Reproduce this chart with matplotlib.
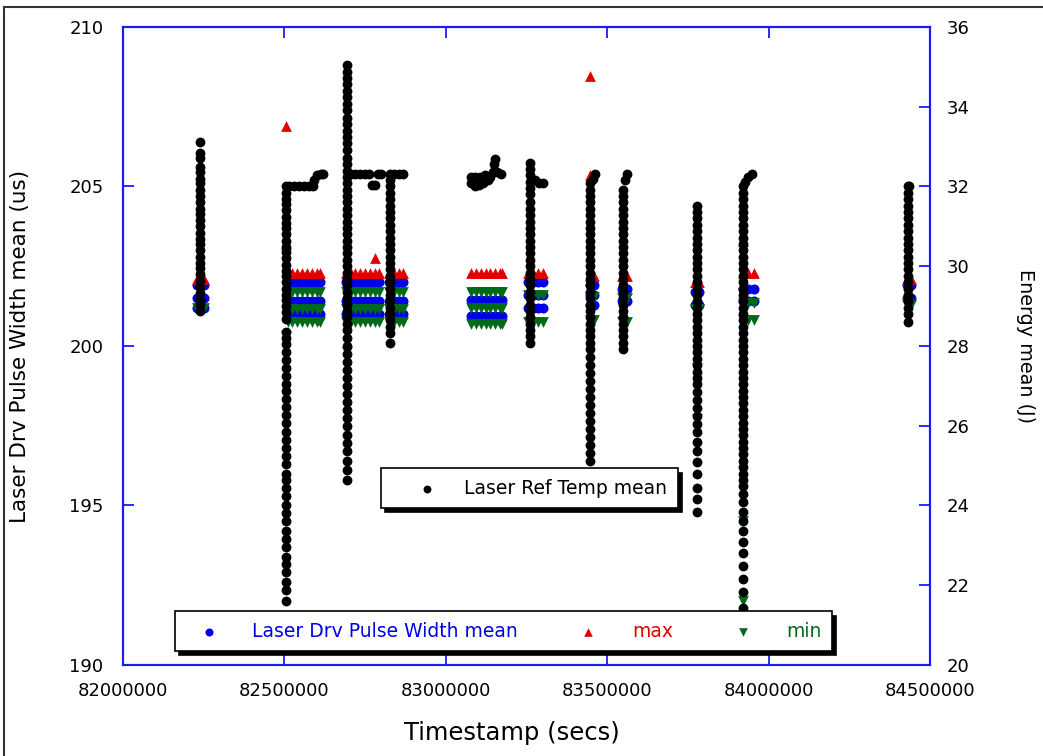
import matplotlib
matplotlib.use("Agg")
import matplotlib.pyplot as plt
from matplotlib.patches import Rectangle

# ---- data -------------------------------------------------------------
# black "Laser Ref Temp mean" columns (one timestamp per column)
temp_col_t = [82240000, 82505000, 82695000, 82828000, 83261000, 83447000,
              83548000, 83778000, 83921000, 84432000]
temp_col_v = [
    [206.4, 206.05, 205.9, 205.6, 205.45, 205.25, 205.1, 204.9, 204.7, 204.5, 204.3, 204.15,
     203.95, 203.75, 203.55, 203.35, 203.2, 203.0, 202.8, 202.6, 202.45, 202.25, 202.05,
     201.85, 201.65, 201.45, 201.3, 201.1],
    [205.0, 204.8, 204.6, 204.45, 204.25, 204.05, 203.85, 203.7, 203.5, 203.3, 203.1, 202.95,
     202.75, 202.55, 202.35, 202.2, 202.0, 201.8, 201.6, 201.45, 201.25, 201.05, 200.85,
     200.45, 200.25, 200.05, 199.8, 199.55, 199.3, 199.05, 198.8, 198.6, 198.35, 198.1,
     197.85, 197.6, 197.3, 197.05, 196.8, 196.55, 196.3, 196.0, 195.8, 195.55, 195.3, 195.0,
     194.75, 194.5, 194.2, 193.95, 193.7, 193.4, 193.15, 192.9, 192.6, 192.35, 192.0],
    [208.8, 208.6, 208.4, 208.2, 208.0, 207.8, 207.6, 207.4, 207.15, 206.95, 206.75, 206.55,
     206.35, 206.15, 205.9, 205.7, 205.5, 205.3, 205.1, 204.9, 204.7, 204.5, 204.3, 204.1,
     203.9, 203.7, 203.5, 203.3, 203.1, 202.9, 202.7, 202.5, 202.3, 202.1, 201.9, 201.7,
     201.5, 201.3, 201.1, 200.9, 200.7, 200.5, 200.25, 200.0, 199.75, 199.5, 199.25, 199.0,
     198.75, 198.5, 198.25, 198.0, 197.75, 197.5, 197.2, 196.95, 196.7, 196.4, 196.1, 195.8],
    [205.4, 205.2, 205.0, 204.8, 204.6, 204.4, 204.2, 204.0, 203.8, 203.6, 203.4, 203.2,
     203.0, 202.8, 202.6, 202.4, 202.2, 202.0, 201.8, 201.6, 201.4, 201.2, 201.0, 200.8,
     200.6, 200.4, 200.1],
    [205.75, 205.55, 205.35, 205.15, 204.95, 204.75, 204.5, 204.3, 204.1, 203.9, 203.7,
     203.5, 203.3, 203.1, 202.9, 202.7, 202.5, 202.3, 202.1, 201.9, 201.7, 201.5, 201.3,
     201.1, 200.9, 200.7, 200.5, 200.3, 200.1],
    [205.1, 204.9, 204.7, 204.5, 204.3, 204.1, 203.9, 203.7, 203.5, 203.3, 203.1, 202.9,
     202.7, 202.5, 202.3, 202.1, 201.9, 201.7, 201.5, 201.3, 201.1, 200.9, 200.7, 200.5,
     200.3, 200.1, 199.9, 199.65, 199.4, 199.15, 198.9, 198.65, 198.4, 198.15, 197.9,
     197.65, 197.4, 197.15, 196.9, 196.65, 196.4],
    [204.9, 204.7, 204.5, 204.3, 204.1, 203.9, 203.7, 203.5, 203.3, 203.1, 202.9, 202.7,
     202.5, 202.3, 202.1, 201.9, 201.7, 201.5, 201.3, 201.1, 200.9, 200.7, 200.5, 200.3,
     200.1, 199.9],
    [204.4, 204.2, 204.0, 203.8, 203.6, 203.4, 203.2, 203.0, 202.8, 202.6, 202.4, 202.2,
     202.0, 201.8, 201.6, 201.4, 201.2, 201.0, 200.8, 200.6, 200.4, 200.2, 200.0, 199.8,
     199.6, 199.4, 199.2, 199.0, 198.8, 198.55, 198.3, 198.05, 197.8, 197.55, 197.3, 197.0,
     196.7, 196.35, 196.0, 195.55, 195.2, 194.8],
    [205.0, 204.8, 204.6, 204.4, 204.2, 204.0, 203.8, 203.6, 203.4, 203.2, 203.0, 202.8,
     202.6, 202.4, 202.2, 202.0, 201.8, 201.6, 201.4, 201.2, 201.0, 200.8, 200.6, 200.4,
     200.2, 200.0, 199.8, 199.6, 199.4, 199.2, 199.0, 198.8, 198.6, 198.4, 198.2, 198.0,
     197.8, 197.6, 197.4, 197.2, 197.0, 196.8, 196.6, 196.4, 196.2, 196.0, 195.8, 195.6,
     195.35, 195.1, 194.8, 194.5, 194.2, 193.85, 193.5, 193.1, 192.7, 192.3, 191.8],
    [205.0, 204.8, 204.6, 204.4, 204.2, 204.0, 203.8, 203.6, 203.4, 203.2, 203.0, 202.8,
     202.6, 202.4, 202.2, 202.0, 201.8, 201.6, 201.4, 201.2, 201.0, 200.75],
]
# black plateau / step points
temp_step_t = [82515000, 82530000, 82545000, 82560000, 82575000, 82588000, 82592000,
               82600000, 82612000, 82620000,
               82705000, 82720000, 82735000, 82750000, 82762000, 82772000, 82780000, 82790000, 82798000,
               82840000, 82855000, 82868000,
               83078000, 83078000, 83090000, 83090000, 83102000, 83105000, 83115000, 83120000,
               83130000, 83138000, 83145000, 83150000, 83152000, 83160000, 83172000,
               83275000, 83290000, 83300000,
               83455000, 83462000, 83556000, 83561000,
               83927000, 83936000, 83949000, 84436000]
temp_step_v = [205.0, 205.0, 205.0, 205.0, 205.0, 205.0, 205.2,
               205.35, 205.4, 205.4,
               205.4, 205.4, 205.4, 205.4, 205.4, 205.05, 205.05, 205.4, 205.4,
               205.4, 205.4, 205.4,
               205.1, 205.3, 205.0, 205.3, 205.05, 205.3, 205.1, 205.35,
               205.2, 205.3, 205.45, 205.7, 205.85, 205.45, 205.4,
               205.2, 205.1, 205.1,
               205.25, 205.4, 205.2, 205.4,
               205.15, 205.3, 205.4, 205.0]

# pulse width blocks: timestamps and value levels per block
pw_block_t = [
    [82228000, 82240000, 82252000],
    [82510000, 82525000, 82540000, 82555000, 82570000, 82585000, 82600000, 82610000],
    [82690000, 82705000, 82720000, 82735000, 82750000, 82765000, 82780000, 82792000],
    [82825000, 82840000, 82855000, 82868000],
    [83078000, 83093000, 83108000, 83123000, 83138000, 83153000, 83168000, 83175000],
    [83255000, 83270000, 83285000, 83300000],
    [83448000, 83460000],
    [83545000, 83562000],
    [83772000, 83785000],
    [83921000, 83936000, 83955000],
    [84428000, 84440000],
]
pw_mean = [[201.9, 201.5, 201.2], [202.0, 201.4, 201.0], [202.0, 201.4, 201.0],
           [202.0, 201.4, 201.0], [201.45, 200.95], [202.0, 201.6, 201.2],
           [201.9, 201.6, 201.3], [201.8, 201.4], [201.7, 201.3], [201.8, 201.4],
           [201.9, 201.5]]
pw_max = [[202.1], [202.3], [202.3], [202.3], [202.3], [202.3],
          [202.2], [202.2], [202.0], [202.3], [202.1]]
pw_min = [[201.2], [201.7, 201.15, 200.75], [201.7, 201.15, 200.75],
          [201.7, 201.15, 200.75], [201.7, 201.2, 200.7], [201.6, 200.75],
          [201.55, 200.8], [201.5, 200.75], [201.15], [201.35, 200.8], [201.3]]

max_out_t = [82505000, 82781000, 83447000, 83447000, 83921000, 82505000]
max_out_v = [206.9, 202.75, 208.45, 205.35, 203.3, 203.2]
min_out_t = [83921000, 83778000, 83778000, 82505000, 83921000, 82695000]
min_out_v = [192.0, 199.3, 197.7, 200.3, 194.5, 199.8]

# ---- build point lists ------------------------------------------------
mean_x, mean_y, max_x, max_y, min_x, min_y = [], [], [], [], [], []
for ts, mv, xv, nv in zip(pw_block_t, pw_mean, pw_max, pw_min):
    for t in ts:
        for v in mv:
            mean_x.append(t); mean_y.append(v)
        for v in xv:
            max_x.append(t); max_y.append(v)
        for v in nv:
            min_x.append(t); min_y.append(v)
max_x += max_out_t; max_y += max_out_v
min_x += min_out_t; min_y += min_out_v

temp_x, temp_y = [], []
for t, vals in zip(temp_col_t, temp_col_v):
    temp_x += [t] * len(vals)
    temp_y += vals
temp_x += temp_step_t
temp_y += temp_step_v

# ---- plot -------------------------------------------------------------
plt.rcParams['font.family'] = ['DejaVu Sans']
axis_blue = '#1a1aff'
blue, red, green = '#0000e6', '#e00000', '#006a1a'

fig = plt.figure(figsize=(10.43, 7.56), dpi=100)
ax = fig.add_axes([0.1179, 0.1204, 0.7738, 0.8439])

h_mean = ax.scatter(mean_x, mean_y, s=52, marker='o', color=blue, linewidths=0,
                    label='Laser Drv Pulse Width mean')
h_max = ax.scatter(max_x, max_y, s=60, marker='^', color=red, linewidths=0, label='max')
h_min = ax.scatter(min_x, min_y, s=60, marker='v', color=green, linewidths=0, label='min')
h_temp = ax.scatter(temp_x, temp_y, s=50, marker='o', color='black', linewidths=0,
                    label='Laser Ref Temp mean')

ax.set_xlim(82000000, 84500000)
ax.set_ylim(190, 210)
ax.set_xticks([82000000, 82500000, 83000000, 83500000, 84000000, 84500000])
ax.set_xticklabels(['82000000', '82500000', '83000000', '83500000', '84000000', '84500000'])
ax.set_yticks([190, 195, 200, 205, 210])
ax.tick_params(axis='both', direction='in', length=8, width=1.3, color=axis_blue,
               labelsize=13)
ax.tick_params(axis='x', top=True, pad=12)
ax.tick_params(axis='y', pad=14)
for sp in ax.spines.values():
    sp.set_color(axis_blue)
    sp.set_linewidth(1.5)

ax2 = ax.twinx()
ax2.set_ylim(20, 36)
ax2.set_yticks([20, 22, 24, 26, 28, 30, 32, 34, 36])
ax2.tick_params(axis='y', direction='in', length=8, width=1.3, color=axis_blue,
                labelsize=13, pad=12)
for sp in ax2.spines.values():
    sp.set_color(axis_blue)
    sp.set_linewidth(1.5)

ax.set_xlabel('Timestamp (secs)', fontsize=17.5)
ax.xaxis.set_label_coords(0.482, -0.088)
ax.set_ylabel('Laser Drv Pulse Width mean (us)', fontsize=15.5)
ax.yaxis.set_label_coords(-0.115, 0.5)
ax2.set_ylabel('Energy mean (J)', fontsize=13.8, rotation=270)
ax2.yaxis.set_label_coords(1.13, 0.5)

shadow = {'ox': 3, 'oy': -3, 'color': 'black', 'alpha': 1}
leg1 = ax2.legend(handles=[h_mean, h_max, h_min], loc='lower left',
                  bbox_to_anchor=(0.0644, 0.0219), borderaxespad=0, ncol=3,
                  fontsize=13.5, labelcolor=[blue, red, green], fancybox=False,
                  shadow=shadow, framealpha=1, edgecolor='black',
                  handlelength=2.5, handletextpad=1.07, columnspacing=2.5,
                  borderpad=0.55, markerscale=0.8)
leg1.get_frame().set_linewidth(1.2)
ax2.add_artist(leg1)
leg2 = ax2.legend(handles=[h_temp], loc='lower left',
                  bbox_to_anchor=(0.3197, 0.246), borderaxespad=0,
                  fontsize=13.5, fancybox=False, shadow=shadow, framealpha=1,
                  edgecolor='black', handlelength=3.8, handletextpad=0.1,
                  borderpad=0.55, markerscale=0.8)
leg2.get_frame().set_linewidth(1.2)

# outer frame of the picture
fig.patches.append(Rectangle((0.004, -0.1), 1.2, 1.0907, transform=fig.transFigure,
                             fill=False, edgecolor='#333333', linewidth=1.5))

fig.savefig('out.png', dpi=100)
